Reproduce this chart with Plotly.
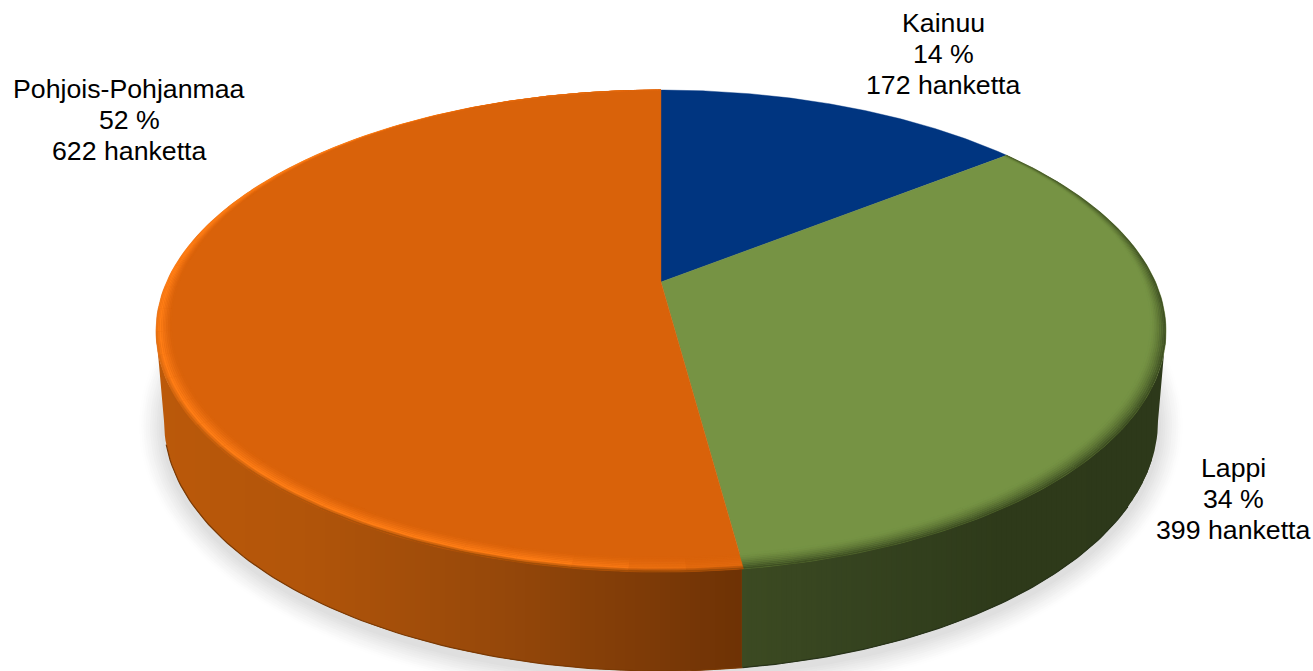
import numpy as np
import plotly.graph_objects as go

# ---- data ----
regions = ["Kainuu", "Lappi", "Pohjois-Pohjanmaa"]
projects = [172, 399, 622]
percent_labels = ["14 %", "34 %", "52 %"]
unit = "hanketta"
top_colors = ["#003580", "#769344", "#d9620a"]

# ---- layout / view constants ----
W, H = 1313, 671
CX, CY_TOP, A_TOP, B_TOP = 661, 331, 505, 241     # top face ellipse on screen
CY_BOT, A_BOT, B_BOT = 421, 497, 250              # bottom edge ellipse on screen
HUB_Y, BACK_Y, FRONT_Y = 282, 90, 572             # pie centre, back and front in screen y
label_pos = {"Kainuu": (943, 23), "Lappi": (1233, 468), "Pohjois-Pohjanmaa": (129, 89)}
LINE_STEP = 31
FONT_PX = 26.7


def hex2rgb(c):
    return np.array([int(c[i:i + 2], 16) for i in (1, 3, 5)], float)


def to_hex(v):
    return "#%02x%02x%02x" % tuple(int(round(q)) for q in v)


def mix(c1, c2, t):
    t = float(np.clip(t, 0, 1))
    return to_hex(hex2rgb(c1) * (1 - t) + hex2rgb(c2) * t)


def ramp(stops, x):
    xs = [s[0] for s in stops]
    rgb = np.array([hex2rgb(s[1]) for s in stops])
    return to_hex([np.interp(x, xs, rgb[:, i]) for i in range(3)])


# perspective map of a unit circle onto the top face
C = (BACK_Y + FRONT_Y - 2 * HUB_Y) / (FRONT_Y - BACK_Y)
AA = BACK_Y * (1 + C) - HUB_Y
D = A_TOP * np.sqrt(1 - C ** 2)


def project(theta):
    X, Y = np.sin(theta), np.cos(theta)
    q = 1 + C * Y
    return CX + D * X / q, (AA * Y + HUB_Y) / q


def rim_point(theta, s):
    """Point on the rounded rim: s=0 is the outer edge, s=1 the inner end of the rim."""
    x, y = project(theta)
    w = 0.026 * (1 - np.cos(theta)) * s
    return x + (CX - x) * w, y + (HUB_Y - y) * w


def poly(fig, xs, ys, color, width=0.7):
    fig.add_trace(go.Scatter(
        x=list(xs), y=list(ys), mode="lines", fill="toself", fillcolor=color,
        line=dict(color=color, width=width), hoverinfo="skip", showlegend=False))


fracs = np.array(projects, float) / sum(projects)
edges = np.concatenate([[0], np.cumsum(fracs)]) * 2 * np.pi

fig = go.Figure()

# soft shadow under the disc
t = np.linspace(0, 2 * np.pi, 181)
for k, grow in enumerate(np.linspace(22, 0, 11)):
    poly(fig, CX + (A_BOT + 3 + grow) * np.cos(t), CY_BOT + 5 + (B_BOT + 3 + grow) * np.sin(t),
         mix("#ffffff", "#dfdfdf", ((k + 1) / 11) ** 1.3), 0)

# side wall: silhouette first, then fine vertical bands
wall_orange = [(157, "#bb590a"), (300, "#b2550a"), (500, "#96480a"), (741, "#6e3205")]
wall_green = [(741, "#3c4a22"), (860, "#35431f"), (1000, "#2e3a1a"), (1170, "#2d391a")]
seam_x, seam_y = project(edges[2])
phi_seam = np.arctan2((seam_y - CY_TOP) / B_TOP, (seam_x - CX) / A_TOP)
pl = np.linspace(phi_seam, np.pi, 90)
pr = np.linspace(0, phi_seam, 60)
poly(fig, np.r_[CX + A_TOP * np.cos(pl), CX + A_BOT * np.cos(pl[::-1])],
     np.r_[CY_TOP + B_TOP * np.sin(pl), CY_BOT + B_BOT * np.sin(pl[::-1])], wall_orange[0][1], 0)
poly(fig, np.r_[CX + A_TOP * np.cos(pr), CX + A_BOT * np.cos(pr[::-1])],
     np.r_[CY_TOP + B_TOP * np.sin(pr), CY_BOT + B_BOT * np.sin(pr[::-1])], wall_green[-1][1], 0)


def strip(x0, x1, stops):
    xs = np.linspace(x0, x1, 5)
    yt = CY_TOP + B_TOP * np.sqrt(np.clip(1 - ((xs - CX) / A_TOP) ** 2, 0, 1)) - 4
    yb = CY_BOT + B_BOT * np.sqrt(np.clip(1 - ((xs - CX) / A_BOT) ** 2, 0, 1))
    poly(fig, np.r_[xs, xs[::-1]], np.r_[yt, yb[::-1]], ramp(stops, 0.5 * (x0 + x1)), 0)


STEP = 5
xl = CX - A_BOT + 6
for x0 in np.arange(xl, seam_x - 2, STEP):
    strip(x0, min(x0 + STEP + 0.6, seam_x - 2), wall_orange)
for x0 in np.arange(seam_x - 2, CX + A_BOT - 6, STEP):
    strip(x0, min(x0 + STEP + 0.6, CX + A_BOT - 6), wall_green)

# dark line along the bottom edge
for lo, hi, col in [(phi_seam, np.pi * 0.97, "#7a3a05"), (0.35, phi_seam, "#28331a")]:
    pp = np.linspace(lo, hi, 80)
    fig.add_trace(go.Scatter(x=CX + A_BOT * np.cos(pp), y=CY_BOT + B_BOT * np.sin(pp), mode="lines",
                             line=dict(color=col, width=1.2), hoverinfo="skip", showlegend=False))

# top face wedges, each from its share of the projects
for i, col in enumerate(top_colors):
    th = np.linspace(edges[i], edges[i + 1], 160)
    x, y = project(th)
    poly(fig, np.r_[CX, x, CX], np.r_[HUB_Y, y, HUB_Y], col, 0.4)

# rounded rim on the orange and green slices
bands = np.linspace(0, 1, 10)

seg_o = np.linspace(edges[2], edges[3], 36)
for p0, p1 in zip(seg_o[:-1], seg_o[1:]):
    mid = 0.5 * (p0 + p1)
    x_mid, _ = project(mid)
    hl = np.clip((seam_x - x_mid) / 180, 0.25, 1)
    edge_dark = float(np.clip(-np.cos(mid) * 1.05, 0, 1))
    pp = np.linspace(p0, p1, 8)
    for s0, s1 in zip(bands[:-1], bands[1:]):
        s = 0.5 * (s0 + s1)
        prof = np.interp(s, [0, 0.3, 1], [1, 1, 0]) ** 1.3
        base = mix(top_colors[2], "#ff7d16", prof * hl)
        col = mix(base, "#8a4205", np.clip(1 - s / 0.28, 0, 1) * edge_dark)
        xa, ya = rim_point(pp, s0)
        xb, yb = rim_point(pp[::-1], s1)
        poly(fig, np.r_[xa, xb], np.r_[ya, yb], col, 0.3)

seg_g = np.linspace(edges[1], edges[2], 26)
for p0, p1 in zip(seg_g[:-1], seg_g[1:]):
    pp = np.linspace(p0, p1, 8)
    for s0, s1 in zip(bands[:-1], bands[1:]):
        s = 0.5 * (s0 + s1)
        col = mix(top_colors[1], "#3a4a20", (1 - s) ** 1.5)
        xa, ya = rim_point(pp, s0)
        xb, yb = rim_point(pp[::-1], s1)
        poly(fig, np.r_[xa, xb], np.r_[ya, yb], col, 0.3)

# labels
annotations = []
for name, pct, n in zip(regions, percent_labels, projects):
    lx, ly = label_pos[name]
    for j, line in enumerate([name, pct, f"{n} {unit}"]):
        annotations.append(dict(x=lx, y=ly + j * LINE_STEP, text=line, showarrow=False,
                                xanchor="center", yanchor="middle", xref="x", yref="y",
                                font=dict(family="Liberation Sans", size=FONT_PX, color="#000000")))

fig.update_layout(
    width=W, height=H, margin=dict(l=0, r=0, t=0, b=0),
    paper_bgcolor="#ffffff", plot_bgcolor="#ffffff", showlegend=False,
    xaxis=dict(range=[0, W], visible=False, fixedrange=True),
    yaxis=dict(range=[H, 0], visible=False, fixedrange=True),
    annotations=annotations,
)
fig.write_html("out.html", config={"displayModeBar": False},
               post_script="document.body.style.margin='0';document.body.style.overflow='hidden';")
